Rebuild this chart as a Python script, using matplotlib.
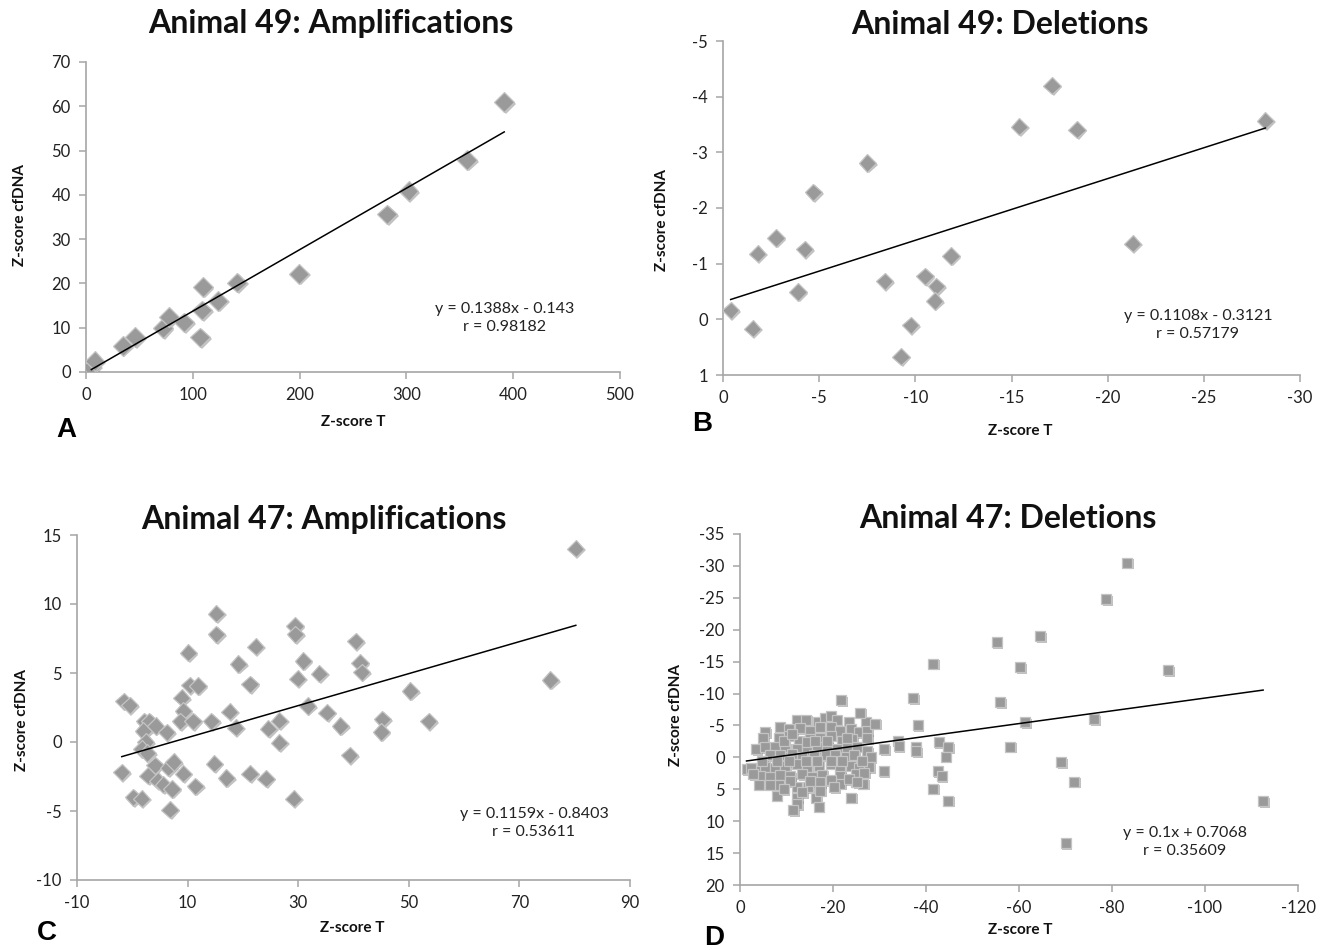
import matplotlib
matplotlib.use("Agg")
import matplotlib.pyplot as plt
import matplotlib.patheffects as pe
import numpy as np

plt.rcParams["font.family"] = ["Lato", "DejaVu Sans"]
plt.rcParams["axes.unicode_minus"] = False

W, H = 1324, 950

# Animal 49 amplifications
a_x = [5, 8, 34.4, 46, 72, 77.6, 92, 107, 108.7, 109.4, 123.7, 141.5, 199.7, 282, 302, 357, 391.6]
a_y = [1.2, 2.5, 5.9, 7.9, 9.9, 12.4, 11.2, 7.8, 13.9, 19.2, 16.1, 20.2, 22.2, 35.6, 40.8, 47.9, 60.9]

# Animal 49 deletions
b_x = [-0.4, -1.55, -1.8, -2.75, -3.9, -4.25, -4.7, -7.5, -8.4, -9.26, -9.76, -10.5, -11.1, -11.0,
       -11.85, -15.4, -17.1, -18.4, -21.3, -28.2]
b_y = [-0.16, 0.17, -1.18, -1.46, -0.49, -1.26, -2.28, -2.81, -0.68, 0.67, 0.11, -0.77, -0.59, -0.33,
       -1.14, -3.46, -4.2, -3.41, -1.36, -3.57]

# Animal 47 amplifications
c_x = [-1.55, -0.5, -1.9, 0.2, 1.7, 2.2, 3.1, 2.0, 2.4, 1.7, 2.7, 4.2, 6.2, 4.1, 2.85, 4.6,
       5.6, 7.2, 6.8, 6.5, 7.5, 9.2, 8.9, 9.2, 8.7, 10.1, 10.4, 11.9, 11.0, 11.4, 14.3, 14.8,
       15.2, 15.2, 17.0, 17.6, 18.7, 19.2, 21.3, 21.3, 22.3, 24.2, 24.6, 26.6, 26.6, 29.2, 29.4, 29.5,
       29.9, 30.9, 31.7, 33.8, 35.2, 37.6, 39.3, 40.4, 41.2, 41.5, 45.2, 45.0, 50.3, 53.6, 75.6, 80.2]
c_y = [2.96, 2.65, -2.2, -4.0, -4.1, 1.5, 1.5, 0.8, 0.0, -0.5, -0.8, 1.16, 0.7, -1.7, -2.45, -2.8,
       -3.1, -3.4, -4.9, -1.85, -1.45, -2.3, 3.2, 2.25, 1.5, 6.46, 4.1, 4.05, 1.5, -3.2, 1.5, -1.57,
       9.3, 7.8, -2.6, 2.2, 1.04, 5.66, 4.17, -2.3, 6.9, -2.65, 0.96, 1.54, -0.05, -4.1, 8.4, 7.8,
       4.6, 5.86, 2.6, 4.96, 2.12, 1.16, -0.96, 7.3, 5.73, 5.06, 1.64, 0.72, 3.7, 1.5, 4.5, 14.0]

# Animal 47 deletions (dense cluster first, then the spread-out points)
d_x = [-12.3, -14.3, -16.7, -18.2, -19.5, -20.8, -23.4, -27.0,
       -5.4, -8.5, -10.5, -13.0, -15.0, -17.2, -19.6, -21.6, -23.8, -25.6, -27.4,
       -5.0, -8.3, -10.5, -12.6, -15.1, -17.3, -19.5, -22.0, -24.1, -27.4,
       -3.5, -5.4, -7.6, -9.7, -12.3, -14.4, -16.6, -18.7, -20.9, -23.1, -25.2, -27.4,
       -6.5, -8.7, -11.2, -13.3, -15.9, -18.4, -20.5, -22.7, -24.5, -28.1,
       -1.4, -3.6, -5.4, -7.6, -9.7, -12.3, -14.4, -16.9, -19.5, -21.6, -23.8, -25.6, -27.8,
       -4.3, -6.5, -8.7, -10.8, -13.3, -15.5, -17.7, -21.6, -24.9, -26.7,
       -4.0, -8.3, -12.3, -14.6, -17.3, -21.6, -24.9, -26.5,
       -7.9, -12.3, -16.4, -12.3, -16.9, -11.4,
       -2.3, -2.9, -4.7, -7.9, -10.5, -14.1, -16.6, -19.5, -22.0, -26.3,
       -9.4, -14.4, -11.2, -16.2, -18.7, -23.1, -10.8, -15.1, -19.5, -23.4,
       -6.5, -9.4, -13.3, -17.3, -20.2, -25.2,
       -83.3, -78.7, -55.2, -64.6, -41.6, -60.3, -92.1, -37.3, -56.0, -21.7, -38.2, -61.3,
       -76.2, -58.1, -33.9, -34.1, -37.8, -37.9, -31.0, -30.9, -42.7, -44.8, -44.2, -42.5,
       -43.4, -41.6, -44.8, -69.0, -71.8, -70.0, -112.5, -29.1, -25.8, -23.9]
d_y = [-5.8, -5.9, -5.5, -6.2, -6.5, -5.9, -5.5, -5.5,
       -3.9, -4.8, -4.5, -4.6, -4.2, -4.7, -4.8, -4.2, -4.5, -3.9, -4.2,
       -3.1, -3.1, -3.4, -2.6, -2.9, -3.1, -3.4, -2.6, -2.9, -3.0,
       -1.3, -1.6, -1.7, -1.6, -1.3, -1.2, -1.6, -1.8, -1.3, -1.5, -1.7, -1.0,
       -0.3, -0.3, -0.5, 0.0, -0.3, -0.3, -0.3, 0.0, -0.3, 0.0,
       1.8, 1.6, 1.5, 1.6, 1.3, 1.0, 1.5, 1.3, 1.0, 1.5, 1.3, 1.6, 1.5,
       2.9, 3.0, 2.7, 2.9, 2.6, 3.0, 2.7, 2.9, 2.6, 2.4,
       4.3, 4.3, 4.6, 4.7, 3.9, 4.1, 3.8, 4.1,
       6.0, 6.3, 6.3, 7.3, 7.7, 8.3,
       1.6, 2.6, 0.5, 0.6, 0.6, 0.5, 0.6, 0.5, 0.6, 0.5,
       -2.6, -2.4, -3.7, -2.6, -2.6, -3.1, 3.7, 3.7, 3.6, 3.4,
       4.3, 5.0, 5.5, 5.2, 4.7, 3.9,
       -30.5, -24.8, -18.0, -19.0, -14.7, -14.1, -13.7, -9.3, -8.6, -9.0, -5.0, -5.5,
       -6.0, -1.7, -2.6, -1.8, -1.7, -1.0, -1.3, 2.2, -2.4, -1.6, -0.1, 2.2,
       2.9, 4.9, 6.8, 0.8, 3.8, 13.4, 6.9, -5.3, -7.0, 6.3]

titles = ["Animal 49: Amplifications", "Animal 49: Deletions",
          "Animal 47: Amplifications", "Animal 47: Deletions"]
fits = [(0.1388, -0.143), (0.1108, -0.3121), (0.1159, -0.8403), (0.1, 0.7068)]
eq_text = ["y = 0.1388x - 0.143\nr = 0.98182", "y = 0.1108x - 0.3121\nr = 0.57179",
           "y = 0.1159x - 0.8403\nr = 0.53611", "y = 0.1x + 0.7068\nr = 0.35609"]
letters = ["A", "B", "C", "D"]


def frac(x0, y0, x1, y1):
    return [x0 / W, 1 - y1 / H, (x1 - x0) / W, (y1 - y0) / H]


def ftext(x, y, s, **kw):
    fig.text(x / W, 1 - y / H, s, ha="center", va="center", **kw)


fig = plt.figure(figsize=(W / 100, H / 100), dpi=100)

panels = [
    # data, marker, size, box, xlim, ylim, xticks, yticks, title pos, xlabel pos, ylabel pos, letter pos, eq pos
    (a_x, a_y, "D", 10.0, (86, 62, 620, 372), (0, 500), (0, 70), range(0, 501, 100), range(0, 71, 10),
     (331, 24), (353, 422), (20, 215), (66, 430), (505, 318)),
    (b_x, b_y, "D", 8.8, (723, 41, 1300, 375), (0, -30), (1, -5), range(0, -31, -5), range(-5, 2),
     (1000, 24), (1020, 431), (662, 220), (702, 424), (1198, 325)),
    (c_x, c_y, "D", 8.8, (77, 535, 630, 880), (-10, 90), (-10, 15), range(-10, 91, 20), range(-10, 16, 5),
     (324, 519), (352, 928), (22, 720), (47, 933), (534, 823)),
    (d_x, d_y, "s", 7.2, (740, 534, 1298, 885), (0, -120), (20, -35), range(0, -121, -20), range(-35, 21, 5),
     (1008, 518), (1020, 930), (676, 715), (714, 938), (1185, 842)),
]

shadow = [pe.SimplePatchShadow(offset=(1.2, -1.2), shadow_rgbFace="#777777", alpha=0.45), pe.Normal()]

for i, (xs, ys, mk, ms, box, xl, yl, xt, yt, tpos, xlpos, ylpos, lpos, epos) in enumerate(panels):
    ax = fig.add_axes(frac(*box))
    ax.plot(xs, ys, linestyle="none", marker=mk, markersize=ms, markerfacecolor="#9a9a9a",
            markeredgecolor="#c4c4c4", markeredgewidth=0.9, path_effects=shadow, zorder=3)
    # trend line over the data range, from the printed equation
    slope, icpt = fits[i]
    lx = np.array([np.min(xs), np.max(xs)])
    ax.plot(lx, slope * lx + icpt, color="black", linewidth=1.1, zorder=4)
    ax.set_xlim(*xl)
    ax.set_ylim(*yl)
    ax.set_xticks(list(xt))
    ax.set_yticks(list(yt))
    for s in ["top", "right"]:
        ax.spines[s].set_visible(False)
    for s in ["left", "bottom"]:
        ax.spines[s].set_color("#a6a6a6")
        ax.spines[s].set_linewidth(1.2)
    ax.tick_params(direction="out", length=5, width=1.1, color="#a6a6a6", labelsize=12,
                   labelcolor="#222222", pad=6)
    ax.patch.set_alpha(0)

    ftext(*tpos, titles[i], fontsize=23, fontweight="bold", color="#111111")
    ftext(*xlpos, "Z-score T", fontsize=11, fontweight="bold", color="#111111")
    ftext(*ylpos, "Z-score cfDNA", fontsize=11, fontweight="bold", color="#111111", rotation=90)
    ftext(*lpos, letters[i], fontsize=20, fontweight="bold", color="black",
          family=["Liberation Sans", "DejaVu Sans"])
    ftext(*epos, eq_text[i], fontsize=11.5, color="#222222", multialignment="center", linespacing=1.4)

fig.savefig("out.png", dpi=100)
